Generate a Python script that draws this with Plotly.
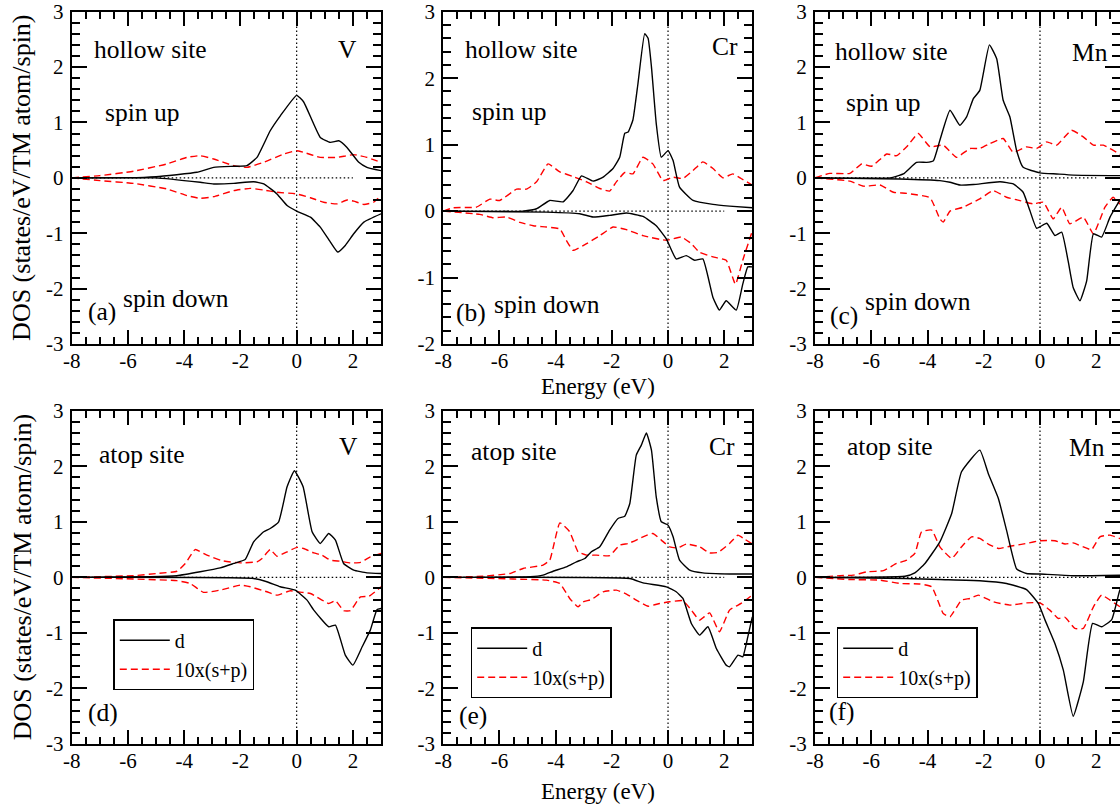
import plotly.graph_objects as go

# ---------------- data ----------------
# Panel (a) hollow site, V
a_d_up_x = [-8, -6, -5.0, -3.55, -2.95, -2.24, -1.77, -1.41, -0.94, -0.58, 0, 0.25, 0.84, 1.2, 1.5, 1.79, 2.21, 2.5, 3.0]
a_d_up_y = [0, 0, 0.02, 0.10, 0.19, 0.21, 0.22, 0.37, 0.85, 1.12, 1.49, 1.37, 0.73, 0.64, 0.67, 0.55, 0.28, 0.19, 0.13]
a_d_dn_x = [-8, -5.0, -3.43, -2.95, -2.24, -1.53, -1.17, -0.70, -0.34, 0, 0.49, 0.84, 1.2, 1.46, 1.73, 2.03, 2.39, 3.0]
a_d_dn_y = [0, 0, -0.08, -0.11, -0.10, -0.07, -0.11, -0.29, -0.50, -0.60, -0.71, -0.89, -1.16, -1.34, -1.22, -1.01, -0.80, -0.65]
a_sp_up_x = [-8, -7, -5.8, -4.62, -3.9, -3.43, -2.95, -2.24, -1.77, -1.17, -0.46, 0, 0.25, 0.84, 1.44, 2.03, 2.5, 3.0]
a_sp_up_y = [0, 0.04, 0.12, 0.25, 0.37, 0.40, 0.34, 0.22, 0.19, 0.28, 0.43, 0.49, 0.46, 0.37, 0.37, 0.42, 0.37, 0.28]
a_sp_dn_x = [-8, -7, -5.8, -4.62, -3.9, -3.43, -2.95, -2.24, -1.65, -1.17, -0.7, 0, 0.49, 0.96, 1.44, 1.79, 2.03, 2.39, 2.74, 3.0]
a_sp_dn_y = [0, -0.05, -0.10, -0.20, -0.32, -0.37, -0.34, -0.23, -0.19, -0.22, -0.26, -0.29, -0.36, -0.44, -0.47, -0.40, -0.42, -0.48, -0.44, -0.32]

# Panel (b) hollow site, Cr
b_d_up_x = [-8, -5.16, -4.68, -4.21, -3.73, -3.38, -3.08, -2.67, -2.31, -1.96, -1.72, -1.54, -1.42, -1.25, -1.07, -0.83, -0.71, -0.59, -0.42, -0.24, 0, 0.18, 0.41, 0.89, 1.6, 2.19, 3.0]
b_d_up_y = [0, 0, 0.035, 0.16, 0.14, 0.31, 0.53, 0.45, 0.51, 0.64, 0.81, 1.17, 1.19, 1.37, 1.92, 2.67, 2.60, 2.17, 1.32, 0.81, 0.91, 0.76, 0.36, 0.16, 0.10, 0.075, 0.05]
b_d_dn_x = [-8, -4.33, -3.14, -2.67, -2.08, -1.48, -0.89, -0.42, -0.06, 0.29, 0.65, 0.95, 1.24, 1.6, 1.83, 2.07, 2.43, 2.66, 2.84, 3.0]
b_d_dn_y = [0, -0.015, -0.04, -0.09, -0.065, -0.03, -0.08, -0.22, -0.42, -0.72, -0.67, -0.74, -0.72, -1.30, -1.49, -1.35, -1.49, -1.10, -0.84, -0.84]
b_sp_up_x = [-8, -7.64, -6.82, -6.34, -5.99, -5.39, -5.04, -4.68, -4.27, -3.85, -3.38, -2.9, -2.43, -2.08, -1.84, -1.54, -1.25, -0.89, -0.54, -0.18, 0.18, 0.53, 0.89, 1.24, 1.6, 1.95, 2.31, 2.6, 3.0]
b_sp_up_y = [0, 0.05, 0.06, 0.18, 0.16, 0.33, 0.33, 0.44, 0.71, 0.59, 0.52, 0.44, 0.34, 0.30, 0.44, 0.58, 0.56, 0.81, 0.71, 0.46, 0.51, 0.49, 0.61, 0.74, 0.64, 0.50, 0.56, 0.49, 0.39]
b_sp_dn_x = [-8, -6.7, -6.22, -5.75, -5.27, -4.8, -4.33, -3.85, -3.62, -3.38, -2.9, -2.43, -1.96, -1.48, -0.89, -0.06, 0.47, 0.83, 1.12, 1.6, 2.07, 2.40, 2.66, 3.0]
b_sp_dn_y = [0, -0.05, -0.10, -0.09, -0.17, -0.22, -0.24, -0.27, -0.44, -0.59, -0.49, -0.37, -0.24, -0.28, -0.37, -0.44, -0.39, -0.49, -0.62, -0.69, -0.74, -1.10, -0.74, -0.30]

# Panel (c) hollow site, Mn
c_d_up_x = [-8, -5.33, -4.86, -4.39, -4.03, -3.79, -3.56, -3.2, -2.85, -2.61, -2.37, -2.14, -1.8, -1.54, -1.31, -1.07, -0.83, -0.6, 0, 0.59, 1.18, 3.0]
c_d_up_y = [0, 0, 0.07, 0.28, 0.28, 0.31, 0.68, 1.22, 0.95, 1.10, 1.43, 1.58, 2.40, 2.15, 1.40, 1.10, 0.49, 0.19, 0.09, 0.07, 0.05, 0.04]
c_d_dn_x = [-8, -5.0, -3.56, -3.2, -2.85, -2.37, -1.42, -0.95, -0.6, -0.36, -0.12, 0.24, 0.53, 0.77, 1.0, 1.18, 1.42, 1.66, 1.9, 2.19, 2.49, 2.84, 3.0]
c_d_dn_y = [0, -0.02, -0.05, -0.08, -0.13, -0.12, -0.07, -0.11, -0.26, -0.59, -0.91, -0.82, -1.04, -0.98, -1.50, -1.98, -2.22, -1.86, -1.01, -1.07, -0.71, -0.41, -0.35]
c_sp_up_x = [-8, -7.47, -6.76, -6.34, -5.99, -5.45, -5.1, -4.74, -4.33, -3.91, -3.44, -2.97, -2.49, -2.14, -1.78, -1.31, -0.95, -0.48, -0.12, 0.24, 0.59, 1.12, 1.54, 1.9, 2.25, 2.84, 3.0]
c_sp_up_y = [0, 0.08, 0.08, 0.25, 0.21, 0.43, 0.40, 0.56, 0.80, 0.56, 0.59, 0.37, 0.53, 0.53, 0.62, 0.71, 0.46, 0.56, 0.53, 0.65, 0.59, 0.86, 0.74, 0.59, 0.59, 0.43, 0.40]
c_sp_dn_x = [-8, -6.76, -6.28, -5.69, -5.21, -4.74, -3.91, -3.56, -3.44, -3.2, -2.73, -2.14, -1.66, -1.19, -0.71, -0.24, 0.12, 0.47, 0.77, 1.06, 1.54, 1.9, 2.31, 2.6, 2.84, 3.0]
c_sp_dn_y = [0, -0.06, -0.15, -0.13, -0.26, -0.28, -0.36, -0.74, -0.80, -0.60, -0.53, -0.38, -0.23, -0.35, -0.41, -0.47, -0.44, -0.74, -0.53, -0.83, -0.71, -1.01, -0.53, -0.35, -0.47, -0.50]

# Panel (d) atop site, V
d_d_up_x = [-8, -5.2, -4.26, -3.43, -2.72, -2.24, -1.83, -1.53, -1.17, -0.94, -0.64, -0.34, -0.08, 0.23, 0.55, 0.84, 1.14, 1.38, 1.67, 2.03, 2.5, 3.0]
d_d_up_y = [0, 0.01, 0.03, 0.10, 0.17, 0.25, 0.32, 0.64, 0.82, 0.88, 1.0, 1.63, 1.92, 1.63, 0.82, 0.61, 0.79, 0.67, 0.25, 0.13, 0.08, 0.07]
d_d_dn_x = [-8, -1.53, -1.06, -0.58, -0.05, 0.37, 0.61, 1.14, 1.38, 1.73, 2.0, 2.33, 2.62, 2.86, 3.0]
d_d_dn_y = [0, -0.02, -0.08, -0.17, -0.23, -0.41, -0.59, -0.89, -0.86, -1.40, -1.58, -1.25, -0.95, -0.58, -0.56]
d_sp_up_x = [-8, -5.8, -4.97, -4.26, -3.96, -3.61, -3.19, -2.66, -2.0, -1.41, -1.23, -0.94, -0.7, -0.34, 0.01, 0.25, 0.61, 0.9, 1.2, 1.56, 1.91, 2.27, 2.62, 3.0]
d_sp_up_y = [0, 0.03, 0.07, 0.11, 0.25, 0.50, 0.40, 0.30, 0.26, 0.28, 0.34, 0.50, 0.38, 0.46, 0.54, 0.52, 0.44, 0.40, 0.31, 0.29, 0.26, 0.27, 0.37, 0.43]
d_sp_dn_x = [-8, -5.8, -4.26, -3.79, -3.31, -2.72, -2.0, -1.65, -1.06, -0.7, -0.22, 0.01, 0.49, 1.14, 1.38, 1.67, 1.91, 2.27, 2.57, 3.0]
d_sp_dn_y = [0, -0.03, -0.06, -0.11, -0.27, -0.23, -0.14, -0.17, -0.26, -0.32, -0.24, -0.26, -0.29, -0.47, -0.42, -0.60, -0.60, -0.35, -0.34, -0.17]

# Panel (e) atop site, Cr
e_d_up_x = [-8, -4.9, -4.45, -4.09, -3.62, -3.26, -2.96, -2.73, -2.43, -2.08, -1.78, -1.54, -1.36, -1.13, -0.95, -0.77, -0.59, -0.42, -0.24, 0, 0.18, 0.41, 0.77, 1.24, 2.19, 3.0]
e_d_up_y = [0, 0.01, 0.04, 0.11, 0.19, 0.28, 0.34, 0.46, 0.55, 0.85, 1.06, 1.10, 1.33, 2.20, 2.38, 2.60, 2.29, 1.45, 1.0, 0.94, 0.73, 0.31, 0.13, 0.08, 0.06, 0.06]
e_d_dn_x = [-8, -1.36, -0.89, -0.06, 0.29, 0.53, 0.83, 1.12, 1.42, 1.72, 2.07, 2.19, 2.49, 2.66, 2.84, 3.0]
e_d_dn_y = [0, -0.02, -0.10, -0.17, -0.26, -0.38, -0.83, -1.04, -0.89, -1.28, -1.58, -1.61, -1.40, -1.43, -1.07, -0.71]
e_sp_up_x = [-8, -6.58, -5.63, -5.16, -4.45, -4.21, -3.85, -3.5, -3.2, -2.9, -2.55, -2.08, -1.72, -1.42, -1.13, -0.89, -0.54, -0.24, 0.06, 0.35, 0.65, 1.12, 1.48, 1.78, 2.19, 2.49, 2.72, 3.0]
e_sp_up_y = [0, 0.02, 0.07, 0.16, 0.22, 0.31, 0.98, 0.82, 0.46, 0.40, 0.40, 0.39, 0.58, 0.61, 0.67, 0.73, 0.79, 0.67, 0.55, 0.53, 0.60, 0.55, 0.44, 0.45, 0.61, 0.76, 0.69, 0.60]
e_sp_dn_x = [-8, -5.51, -4.33, -3.85, -3.5, -3.2, -3.02, -2.73, -2.31, -1.84, -1.48, -1.13, -0.71, -0.3, 0.06, 0.53, 0.83, 1.12, 1.48, 1.83, 2.19, 2.6, 3.0]
e_sp_dn_y = [0, -0.03, -0.05, -0.11, -0.38, -0.53, -0.44, -0.40, -0.26, -0.23, -0.30, -0.41, -0.52, -0.47, -0.44, -0.42, -0.59, -0.77, -0.64, -0.98, -0.59, -0.47, -0.32]

# Panel (f) atop site, Mn
f_d_up_x = [-8, -4.8, -4.45, -4.09, -3.56, -3.14, -2.79, -2.14, -1.84, -1.48, -1.19, -0.83, -0.48, 0, 1.18, 3.0]
f_d_up_y = [0, 0.02, 0.08, 0.25, 0.64, 1.15, 1.90, 2.29, 1.87, 1.42, 0.85, 0.15, 0.07, 0.06, 0.03, 0.04]
f_d_dn_x = [-8, -4.8, -3.56, -2.14, -1.19, -0.48, -0.06, 0.18, 0.53, 0.83, 1.18, 1.54, 1.87, 2.19, 2.55, 2.84, 3.0]
f_d_dn_y = [0, -0.02, -0.04, -0.06, -0.11, -0.22, -0.47, -0.77, -1.19, -1.67, -2.50, -1.88, -0.83, -0.89, -0.76, -0.23, -0.10]
f_sp_up_x = [-8, -7.11, -6.64, -6.16, -5.57, -5.1, -4.74, -4.45, -4.21, -3.85, -3.56, -3.14, -2.79, -2.43, -2.14, -1.84, -1.48, -1.07, -0.48, 0, 0.53, 0.89, 1.18, 1.83, 2.13, 2.49, 2.84, 3.0]
f_sp_up_y = [0, 0.03, 0.04, 0.10, 0.12, 0.25, 0.31, 0.43, 0.82, 0.85, 0.55, 0.34, 0.55, 0.73, 0.70, 0.60, 0.52, 0.56, 0.61, 0.66, 0.66, 0.60, 0.62, 0.50, 0.73, 0.76, 0.70, 0.68]
f_sp_dn_x = [-8, -6.76, -5.69, -4.98, -4.27, -3.85, -3.44, -3.2, -2.79, -2.49, -2.19, -1.66, -1.07, -0.48, 0, 0.35, 0.65, 0.89, 1.24, 1.54, 1.9, 2.19, 2.49, 2.84, 3.0]
f_sp_dn_y = [0, -0.04, -0.05, -0.11, -0.12, -0.17, -0.65, -0.71, -0.41, -0.38, -0.32, -0.44, -0.50, -0.46, -0.46, -0.59, -0.74, -0.72, -0.92, -0.92, -0.53, -0.32, -0.41, -0.53, -0.58]

# reference lines
zero_line_x = [-8, 2]
fermi_x = 0

# ticks
x_tick_vals = [-8, -6, -4, -2, 0, 2]
x_tick_text = ["-8", "-6", "-4", "-2", "0", "2"]
y_tick_vals = [-3, -2, -1, 0, 1, 2, 3]
y_tick_text = ["-3", "-2", "-1", "0", "1", "2", "3"]

series_names = ["d", "10x(s+p)"]

# ---------------- figure ----------------
FONT = "Liberation Serif, Times New Roman, Times, serif"
W, H = 1120, 806


def px(xp):
    return xp / W


def py(yp):
    return 1 - yp / H


col_dom = [[px(71.7), px(381.0)], [px(443.3), px(752.3)], [px(815.0), 1.0]]
row_dom = [[py(344.0), py(11.7)], [py(744.0), py(410.7)]]
x_ranges = [[-8, 3], [-8, 3], [-8, -8 + (W - 815.0) / 28.125]]

panels = [
    dict(d_up=(a_d_up_x, a_d_up_y), d_dn=(a_d_dn_x, a_d_dn_y), sp_up=(a_sp_up_x, a_sp_up_y), sp_dn=(a_sp_dn_x, a_sp_dn_y), yr=[-3, 3]),
    dict(d_up=(b_d_up_x, b_d_up_y), d_dn=(b_d_dn_x, b_d_dn_y), sp_up=(b_sp_up_x, b_sp_up_y), sp_dn=(b_sp_dn_x, b_sp_dn_y), yr=[-2, 3]),
    dict(d_up=(c_d_up_x, c_d_up_y), d_dn=(c_d_dn_x, c_d_dn_y), sp_up=(c_sp_up_x, c_sp_up_y), sp_dn=(c_sp_dn_x, c_sp_dn_y), yr=[-3, 3]),
    dict(d_up=(d_d_up_x, d_d_up_y), d_dn=(d_d_dn_x, d_d_dn_y), sp_up=(d_sp_up_x, d_sp_up_y), sp_dn=(d_sp_dn_x, d_sp_dn_y), yr=[-3, 3]),
    dict(d_up=(e_d_up_x, e_d_up_y), d_dn=(e_d_dn_x, e_d_dn_y), sp_up=(e_sp_up_x, e_sp_up_y), sp_dn=(e_sp_dn_x, e_sp_dn_y), yr=[-3, 3]),
    dict(d_up=(f_d_up_x, f_d_up_y), d_dn=(f_d_dn_x, f_d_dn_y), sp_up=(f_sp_up_x, f_sp_up_y), sp_dn=(f_sp_dn_x, f_sp_dn_y), yr=[-3, 3]),
]

legend_ids = {3: "legend", 4: "legend2", 5: "legend3"}

fig = go.Figure()
layout = {}
for i, p in enumerate(panels):
    n = "" if i == 0 else str(i + 1)
    xr, yr_ = "x" + n, "y" + n
    row, col = divmod(i, 3)
    dot = dict(color="black", width=1.2, dash="1.5px,2.5px")
    fig.add_trace(go.Scatter(x=zero_line_x, y=[0, 0], mode="lines", line=dot, xaxis=xr, yaxis=yr_, showlegend=False, hoverinfo="skip"))
    fig.add_trace(go.Scatter(x=[fermi_x, fermi_x], y=p["yr"], mode="lines", line=dot, xaxis=xr, yaxis=yr_, showlegend=False, hoverinfo="skip"))
    blk = dict(color="black", width=1.4, shape="spline", smoothing=0.4)
    red = dict(color="#ff0000", width=1.4, dash="7px,4px", shape="spline", smoothing=0.4)
    leg = legend_ids.get(i)
    fig.add_trace(go.Scatter(x=p["sp_up"][0], y=p["sp_up"][1], mode="lines", line=red, xaxis=xr, yaxis=yr_,
                             name=series_names[1], showlegend=False))
    fig.add_trace(go.Scatter(x=p["sp_dn"][0], y=p["sp_dn"][1], mode="lines", line=red, xaxis=xr, yaxis=yr_, showlegend=False))
    fig.add_trace(go.Scatter(x=p["d_up"][0], y=p["d_up"][1], mode="lines", line=blk, xaxis=xr, yaxis=yr_,
                             name=series_names[0], showlegend=False))
    fig.add_trace(go.Scatter(x=p["d_dn"][0], y=p["d_dn"][1], mode="lines", line=blk, xaxis=xr, yaxis=yr_, showlegend=False))
    if leg:
        # legend entries in order: d, then 10x(s+p)
        fig.add_trace(go.Scatter(x=[None], y=[None], mode="lines", line=dict(color="black", width=1.4), xaxis=xr, yaxis=yr_,
                                 name=series_names[0], legend=leg, showlegend=True))
        fig.add_trace(go.Scatter(x=[None], y=[None], mode="lines", line=dict(color="#ff0000", width=1.4, dash="7px,4px"), xaxis=xr, yaxis=yr_,
                                 name=series_names[1], legend=leg, showlegend=True))

    axis_common = dict(showline=True, linecolor="black", linewidth=2, mirror="ticks", ticks="inside",
                       tickcolor="black", tickwidth=1.5, showgrid=False, zeroline=False, automargin=False,
                       ticklabeloverflow="allow",
                       tickfont=dict(family=FONT, size=21, color="black"))
    layout["xaxis" + n] = dict(axis_common, domain=col_dom[col], range=x_ranges[col], anchor=yr_,
                               tickmode="array", tickvals=x_tick_vals, ticktext=x_tick_text, ticklen=14,
                               ticklabelstandoff=-3,
                               minor=dict(ticks="inside", dtick=0.5, tick0=0, ticklen=7, tickwidth=1.5, tickcolor="black", showgrid=False))
    yv = [v for v in y_tick_vals if p["yr"][0] <= v <= p["yr"][1]]
    yt = [t for v, t in zip(y_tick_vals, y_tick_text) if p["yr"][0] <= v <= p["yr"][1]]
    layout["yaxis" + n] = dict(axis_common, domain=row_dom[row], range=p["yr"], anchor=xr,
                               tickmode="array", tickvals=yv, ticktext=yt, ticklen=15, ticklabelstandoff=2,
                               minor=dict(ticks="inside", dtick=0.2, tick0=0, ticklen=8, tickwidth=1.5, tickcolor="black", showgrid=False))

ann_font = dict(family=FONT, size=25.5, color="black")
labels = [
    # (panel index, text, x, y, xanchor)
    (0, "hollow site", -7.28, 2.32, "left"), (0, "V", 2.2, 2.32, "right"), (0, "spin up", -6.885, 1.18, "left"),
    (0, "spin down", -6.255, -2.18, "left"), (0, "(a)", -7.49, -2.41, "left"),
    (1, "hollow site", -7.29, 2.435, "left"), (1, "Cr", 2.56, 2.47, "right"), (1, "spin up", -7.05, 1.50, "left"),
    (1, "spin down", -6.28, -1.405, "left"), (1, "(b)", -7.62, -1.53, "left"),
    (2, "hollow site", -7.37, 2.28, "left"), (2, "Mn", 2.5, 2.26, "right"), (2, "spin up", -6.96, 1.36, "left"),
    (2, "spin down", -6.30, -2.23, "left"), (2, "(c)", -7.53, -2.49, "left"),
    (3, "atop site", -7.11, 2.22, "left"), (3, "V", 2.24, 2.36, "right"), (3, "(d)", -7.49, -2.435, "left"),
    (4, "atop site", -7.07, 2.27, "left"), (4, "Cr", 2.44, 2.36, "right"), (4, "(e)", -7.50, -2.48, "left"),
    (5, "atop site", -6.93, 2.36, "left"), (5, "Mn", 2.38, 2.33, "right"), (5, "(f)", -7.56, -2.42, "left"),
]
annotations = []
for i, txt, x, y, xa in labels:
    n = "" if i == 0 else str(i + 1)
    annotations.append(dict(text=txt, x=x, y=y, xref="x" + n, yref="y" + n, xanchor=xa, yanchor="middle",
                            showarrow=False, font=ann_font))

title_font = dict(family=FONT, size=26, color="black")
for yc in [py(177.9), py(577.3)]:
    annotations.append(dict(text="DOS (states/eV/TM atom/spin)", x=px(22), y=yc, xref="paper", yref="paper",
                            xanchor="center", yanchor="middle", textangle=-90, showarrow=False, font=title_font))
for yc in [py(386.0), py(791.0)]:
    annotations.append(dict(text="Energy (eV)", x=px(598), y=yc, xref="paper", yref="paper",
                            xanchor="center", yanchor="middle", showarrow=False,
                            font=dict(family=FONT, size=23, color="black")))

leg_style = dict(xanchor="left", yanchor="top", bgcolor="white", bordercolor="black", borderwidth=1.5,
                 font=dict(family=FONT, size=20, color="black"), tracegroupgap=0, itemwidth=50)
layout["legend"] = dict(leg_style, x=px(113.3), y=py(619.3))
layout["legend2"] = dict(leg_style, x=px(470.7), y=py(627.3))
layout["legend3"] = dict(leg_style, x=px(836.7), y=py(627.3))

fig.update_layout(width=W, height=H, margin=dict(l=0, r=0, t=0, b=0, autoexpand=False),
                  plot_bgcolor="white", paper_bgcolor="white",
                  annotations=annotations, font=dict(family=FONT, color="black"), **layout)
# remove the browser's default 8px page margin so the figure fills the window exactly
fig.write_html("out.html", config={"displayModeBar": False},
               post_script="document.body.style.margin='0px';document.body.style.overflow='hidden';")
